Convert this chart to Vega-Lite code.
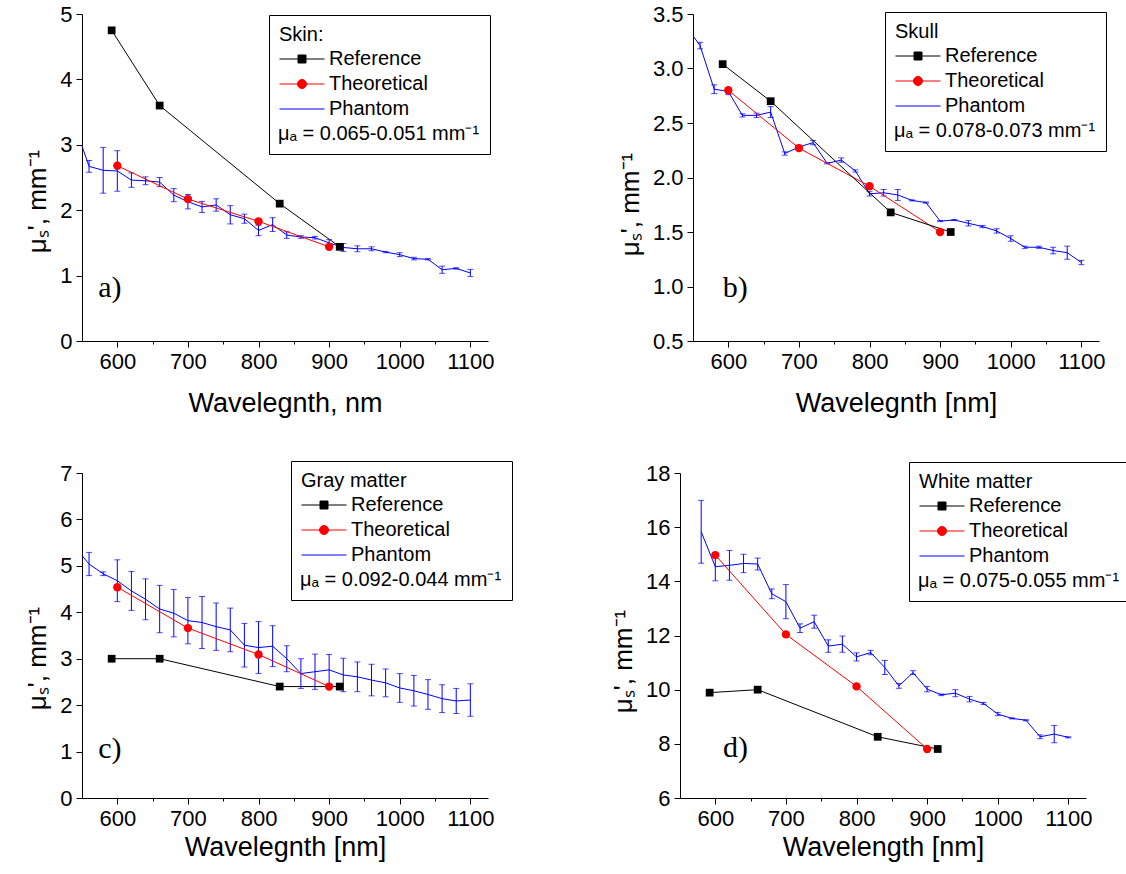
{
  "$schema": "https://vega.github.io/schema/vega-lite/v6.json",
  "background": "white",
  "padding": {"left": 24, "top": 3, "right": 0, "bottom": 12},
  "config": {
    "font": "Liberation Sans",
    "view": {"stroke": null},
    "axis": {
      "grid": false,
      "domainColor": "black",
      "domainWidth": 1,
      "tickColor": "black",
      "tickWidth": 1,
      "labelColor": "black",
      "labelFont": "Liberation Sans",
      "labelFontSize": 22,
      "labelOverlap": false,
      "labelBound": false,
      "labelFlush": false,
      "titleColor": "black",
      "titleFont": "Liberation Sans",
      "titleFontWeight": "normal"
    },
    "axisX": {"labelPadding": 4, "titlePadding": 9, "format": "d", "titleFontSize": 27},
    "axisY": {"labelPadding": 4, "titlePadding": 9, "titleFontSize": 26},
    "legend": {
      "orient": "none",
      "titleFontSize": 20, "titleFontWeight": "normal", "titleColor": "black", "titlePadding": 4,
      "labelFontSize": 20, "labelColor": "black", "labelOffset": 30, "labelLimit": 400,
      "strokeColor": "black", "padding": 10, "rowPadding": 5, "symbolSize": 100
    }
  },
  "datasets": {
    "skin": [
      {"series": "Reference", "wl": 592, "mus": 4.75},
      {"series": "Reference", "wl": 660, "mus": 3.6},
      {"series": "Reference", "wl": 830, "mus": 2.1},
      {"series": "Reference", "wl": 915, "mus": 1.44},
      {"series": "Theoretical", "wl": 600, "mus": 2.68},
      {"series": "Theoretical", "wl": 700, "mus": 2.17},
      {"series": "Theoretical", "wl": 800, "mus": 1.83},
      {"series": "Theoretical", "wl": 900, "mus": 1.44},
      {"series": "Phantom", "wl": 550, "mus": 2.98},
      {"series": "Phantom", "wl": 560, "mus": 2.67, "err": 0.09},
      {"series": "Phantom", "wl": 580, "mus": 2.61, "err": 0.35},
      {"series": "Phantom", "wl": 600, "mus": 2.6, "err": 0.31},
      {"series": "Phantom", "wl": 620, "mus": 2.46, "err": 0.11},
      {"series": "Phantom", "wl": 640, "mus": 2.45, "err": 0.06},
      {"series": "Phantom", "wl": 660, "mus": 2.43, "err": 0.07},
      {"series": "Phantom", "wl": 680, "mus": 2.23, "err": 0.1},
      {"series": "Phantom", "wl": 700, "mus": 2.13, "err": 0.11},
      {"series": "Phantom", "wl": 720, "mus": 2.05, "err": 0.085},
      {"series": "Phantom", "wl": 740, "mus": 2.08, "err": 0.095},
      {"series": "Phantom", "wl": 760, "mus": 1.93, "err": 0.14},
      {"series": "Phantom", "wl": 780, "mus": 1.87, "err": 0.07},
      {"series": "Phantom", "wl": 800, "mus": 1.69, "err": 0.08},
      {"series": "Phantom", "wl": 820, "mus": 1.78, "err": 0.105},
      {"series": "Phantom", "wl": 840, "mus": 1.62, "err": 0.05},
      {"series": "Phantom", "wl": 860, "mus": 1.59, "err": 0.02},
      {"series": "Phantom", "wl": 880, "mus": 1.58, "err": 0.02},
      {"series": "Phantom", "wl": 900, "mus": 1.5, "err": 0.05},
      {"series": "Phantom", "wl": 920, "mus": 1.43, "err": 0.06},
      {"series": "Phantom", "wl": 940, "mus": 1.41, "err": 0.045},
      {"series": "Phantom", "wl": 960, "mus": 1.41, "err": 0.03},
      {"series": "Phantom", "wl": 980, "mus": 1.36, "err": 0.01},
      {"series": "Phantom", "wl": 1000, "mus": 1.32, "err": 0.03},
      {"series": "Phantom", "wl": 1020, "mus": 1.26, "err": 0.02},
      {"series": "Phantom", "wl": 1040, "mus": 1.25, "err": 0.01},
      {"series": "Phantom", "wl": 1060, "mus": 1.09, "err": 0.055},
      {"series": "Phantom", "wl": 1080, "mus": 1.11, "err": 0.01},
      {"series": "Phantom", "wl": 1100, "mus": 1.04, "err": 0.055}
    ],
    "skull": [
      {"series": "Reference", "wl": 592, "mus": 3.04},
      {"series": "Reference", "wl": 660, "mus": 2.7},
      {"series": "Reference", "wl": 830, "mus": 1.68},
      {"series": "Reference", "wl": 915, "mus": 1.5},
      {"series": "Theoretical", "wl": 600, "mus": 2.8},
      {"series": "Theoretical", "wl": 700, "mus": 2.27},
      {"series": "Theoretical", "wl": 800, "mus": 1.92},
      {"series": "Theoretical", "wl": 900, "mus": 1.5},
      {"series": "Phantom", "wl": 550, "mus": 3.3},
      {"series": "Phantom", "wl": 560, "mus": 3.21, "err": 0.03},
      {"series": "Phantom", "wl": 580, "mus": 2.81, "err": 0.04},
      {"series": "Phantom", "wl": 600, "mus": 2.79, "err": 0.03},
      {"series": "Phantom", "wl": 620, "mus": 2.57, "err": 0.015},
      {"series": "Phantom", "wl": 640, "mus": 2.57, "err": 0.02},
      {"series": "Phantom", "wl": 660, "mus": 2.6, "err": 0.05},
      {"series": "Phantom", "wl": 680, "mus": 2.22, "err": 0.015},
      {"series": "Phantom", "wl": 700, "mus": 2.28, "err": 0.015},
      {"series": "Phantom", "wl": 720, "mus": 2.32, "err": 0.02},
      {"series": "Phantom", "wl": 740, "mus": 2.13, "err": 0.005},
      {"series": "Phantom", "wl": 760, "mus": 2.16, "err": 0.02},
      {"series": "Phantom", "wl": 780, "mus": 2.06, "err": 0.01},
      {"series": "Phantom", "wl": 800, "mus": 1.85, "err": 0.02},
      {"series": "Phantom", "wl": 820, "mus": 1.86, "err": 0.03},
      {"series": "Phantom", "wl": 840, "mus": 1.84, "err": 0.05},
      {"series": "Phantom", "wl": 860, "mus": 1.79, "err": 0.005},
      {"series": "Phantom", "wl": 880, "mus": 1.77, "err": 0.005},
      {"series": "Phantom", "wl": 900, "mus": 1.6, "err": 0.005},
      {"series": "Phantom", "wl": 920, "mus": 1.61, "err": 0.005},
      {"series": "Phantom", "wl": 940, "mus": 1.58, "err": 0.025},
      {"series": "Phantom", "wl": 960, "mus": 1.55, "err": 0.01},
      {"series": "Phantom", "wl": 980, "mus": 1.51, "err": 0.02},
      {"series": "Phantom", "wl": 1000, "mus": 1.44, "err": 0.025},
      {"series": "Phantom", "wl": 1020, "mus": 1.36, "err": 0.01},
      {"series": "Phantom", "wl": 1040, "mus": 1.36, "err": 0.01},
      {"series": "Phantom", "wl": 1060, "mus": 1.33, "err": 0.03},
      {"series": "Phantom", "wl": 1080, "mus": 1.31, "err": 0.06},
      {"series": "Phantom", "wl": 1100, "mus": 1.22, "err": 0.02}
    ],
    "gray": [
      {"series": "Reference", "wl": 592, "mus": 3.0},
      {"series": "Reference", "wl": 660, "mus": 3.0},
      {"series": "Reference", "wl": 830, "mus": 2.4},
      {"series": "Reference", "wl": 915, "mus": 2.4},
      {"series": "Theoretical", "wl": 600, "mus": 4.54},
      {"series": "Theoretical", "wl": 700, "mus": 3.66},
      {"series": "Theoretical", "wl": 800, "mus": 3.09},
      {"series": "Theoretical", "wl": 900, "mus": 2.4},
      {"series": "Phantom", "wl": 550, "mus": 5.22},
      {"series": "Phantom", "wl": 560, "mus": 5.04, "err": 0.25},
      {"series": "Phantom", "wl": 580, "mus": 4.83, "err": 0.04},
      {"series": "Phantom", "wl": 600, "mus": 4.68, "err": 0.45},
      {"series": "Phantom", "wl": 620, "mus": 4.46, "err": 0.42},
      {"series": "Phantom", "wl": 640, "mus": 4.28, "err": 0.44},
      {"series": "Phantom", "wl": 660, "mus": 4.07, "err": 0.51},
      {"series": "Phantom", "wl": 680, "mus": 3.98, "err": 0.51},
      {"series": "Phantom", "wl": 700, "mus": 3.82, "err": 0.5},
      {"series": "Phantom", "wl": 720, "mus": 3.78, "err": 0.56},
      {"series": "Phantom", "wl": 740, "mus": 3.69, "err": 0.51},
      {"series": "Phantom", "wl": 760, "mus": 3.62, "err": 0.47},
      {"series": "Phantom", "wl": 780, "mus": 3.29, "err": 0.47},
      {"series": "Phantom", "wl": 800, "mus": 3.24, "err": 0.56},
      {"series": "Phantom", "wl": 820, "mus": 3.27, "err": 0.44},
      {"series": "Phantom", "wl": 840, "mus": 3.0, "err": 0.28},
      {"series": "Phantom", "wl": 860, "mus": 2.68, "err": 0.32},
      {"series": "Phantom", "wl": 880, "mus": 2.72, "err": 0.38},
      {"series": "Phantom", "wl": 900, "mus": 2.76, "err": 0.33},
      {"series": "Phantom", "wl": 920, "mus": 2.65, "err": 0.36},
      {"series": "Phantom", "wl": 940, "mus": 2.61, "err": 0.32},
      {"series": "Phantom", "wl": 960, "mus": 2.54, "err": 0.34},
      {"series": "Phantom", "wl": 980, "mus": 2.48, "err": 0.3},
      {"series": "Phantom", "wl": 1000, "mus": 2.37, "err": 0.31},
      {"series": "Phantom", "wl": 1020, "mus": 2.31, "err": 0.33},
      {"series": "Phantom", "wl": 1040, "mus": 2.23, "err": 0.32},
      {"series": "Phantom", "wl": 1060, "mus": 2.14, "err": 0.3},
      {"series": "Phantom", "wl": 1080, "mus": 2.09, "err": 0.27},
      {"series": "Phantom", "wl": 1100, "mus": 2.11, "err": 0.35}
    ],
    "white": [
      {"series": "Reference", "wl": 592, "mus": 9.89},
      {"series": "Reference", "wl": 660, "mus": 10.0},
      {"series": "Reference", "wl": 830, "mus": 8.26},
      {"series": "Reference", "wl": 915, "mus": 7.81},
      {"series": "Theoretical", "wl": 600, "mus": 14.97},
      {"series": "Theoretical", "wl": 700, "mus": 12.04},
      {"series": "Theoretical", "wl": 800, "mus": 10.12},
      {"series": "Theoretical", "wl": 900, "mus": 7.81},
      {"series": "Phantom", "wl": 580, "mus": 15.83, "err": 1.16},
      {"series": "Phantom", "wl": 600, "mus": 14.54, "err": 0.52},
      {"series": "Phantom", "wl": 620, "mus": 14.59, "err": 0.55},
      {"series": "Phantom", "wl": 640, "mus": 14.66, "err": 0.34},
      {"series": "Phantom", "wl": 660, "mus": 14.64, "err": 0.22},
      {"series": "Phantom", "wl": 680, "mus": 13.54, "err": 0.18},
      {"series": "Phantom", "wl": 700, "mus": 13.25, "err": 0.63},
      {"series": "Phantom", "wl": 720, "mus": 12.27, "err": 0.16},
      {"series": "Phantom", "wl": 740, "mus": 12.51, "err": 0.24},
      {"series": "Phantom", "wl": 760, "mus": 11.61, "err": 0.23},
      {"series": "Phantom", "wl": 780, "mus": 11.68, "err": 0.3},
      {"series": "Phantom", "wl": 800, "mus": 11.21, "err": 0.15},
      {"series": "Phantom", "wl": 820, "mus": 11.37, "err": 0.08},
      {"series": "Phantom", "wl": 840, "mus": 10.82, "err": 0.26},
      {"series": "Phantom", "wl": 860, "mus": 10.14, "err": 0.09},
      {"series": "Phantom", "wl": 880, "mus": 10.63, "err": 0.07},
      {"series": "Phantom", "wl": 900, "mus": 10.02, "err": 0.1},
      {"series": "Phantom", "wl": 920, "mus": 9.81, "err": 0.03},
      {"series": "Phantom", "wl": 940, "mus": 9.87, "err": 0.13},
      {"series": "Phantom", "wl": 960, "mus": 9.65, "err": 0.1},
      {"series": "Phantom", "wl": 980, "mus": 9.49, "err": 0.04},
      {"series": "Phantom", "wl": 1000, "mus": 9.1, "err": 0.06},
      {"series": "Phantom", "wl": 1020, "mus": 8.94, "err": 0.02},
      {"series": "Phantom", "wl": 1040, "mus": 8.87, "err": 0.02},
      {"series": "Phantom", "wl": 1060, "mus": 8.26, "err": 0.07},
      {"series": "Phantom", "wl": 1080, "mus": 8.36, "err": 0.32},
      {"series": "Phantom", "wl": 1100, "mus": 8.24, "err": 0.02}
    ]
  },
  "spacing": 44,
  "resolve": {"scale": {"color": "independent"}, "legend": {"color": "independent"}},
  "vconcat": [
    {
      "spacing": 205,
      "bounds": "flush",
      "resolve": {"scale": {"color": "independent"}, "legend": {"color": "independent"}},
      "hconcat": [
        {
          "width": 406, "height": 327,
          "data": {"name": "skin"},
          "layer": [
            {"transform": [{"filter": "datum.series === 'Phantom' && isValid(datum.err)"}],
              "mark": {"type": "errorbar", "ticks": {"size": 6}, "color": "#0000ff", "thickness": 1},
              "encoding": {
                "x": {"field": "wl", "type": "quantitative", "title": "Wavelegnth, nm", "scale": {"domain": [550, 1125], "nice": false, "zero": false}},
                "y": {"field": "mus", "type": "quantitative", "title": "μₛ', mm⁻¹", "scale": {"domain": [0, 5], "nice": false, "zero": false}},
                "yError": {"field": "err"}}},
            {"transform": [{"filter": "datum.series === 'Phantom'"}],
              "mark": {"type": "line", "strokeWidth": 1},
              "encoding": {
                "x": {"field": "wl", "type": "quantitative", "title": "Wavelegnth, nm", "scale": {"domain": [550, 1125], "nice": false, "zero": false},
                  "axis": {"titlePadding": 18, "values": [600, 650, 700, 750, 800, 850, 900, 950, 1000, 1050, 1100],
                    "labelExpr": "datum.value % 100 === 0 ? datum.label : ''",
                    "tickSize": {"condition": {"test": "datum.value % 100 === 0", "value": 6}, "value": 3}}},
                "y": {"field": "mus", "type": "quantitative", "title": "μₛ', mm⁻¹", "scale": {"domain": [0, 5], "nice": false, "zero": false},
                  "axis": {"titleY": 187, "format": "d", "values": [0, 0.5, 1, 1.5, 2, 2.5, 3, 3.5, 4, 4.5, 5],
                    "labelExpr": "datum.value % 1 === 0 ? datum.label : ''",
                    "tickSize": {"condition": {"test": "datum.value % 1 === 0", "value": 6}, "value": 3}}},
                "color": {"field": "series", "type": "nominal",
                "scale": {"domain": ["Reference", "Theoretical", "Phantom", "μₐ = 0.065-0.051 mm⁻¹"], "range": ["#000000", "#ff0000", "#0000ff", "transparent"]},
                "legend": {"legendX": 187, "legendY": 1, "title": "Skin:",
                  "encode": {
                    "symbols": {"update": {
                      "shape": {"signal": "datum.value === 'Reference' ? 'M-1.9,0H7.1M1.8,-0.8H3.4V0.8H1.8Z' : datum.value === 'Theoretical' ? 'M-1.9,0H7.1M3.5,0A0.9,0.9,0,1,1,1.7,0A0.9,0.9,0,1,1,3.5,0Z' : datum.value === 'Phantom' ? 'M-1.9,0H7.1' : 'M0,0'"},
                      "fill": {"signal": "datum.value === 'Reference' ? '#000000' : datum.value === 'Theoretical' ? '#ff0000' : 'transparent'"},
                      "stroke": {"signal": "datum.value === 'Reference' ? '#000000' : datum.value === 'Theoretical' ? '#ff0000' : datum.value === 'Phantom' ? '#0000ff' : 'transparent'"},
                      "strokeWidth": {"value": 1}, "opacity": {"value": 1}}},
                    "labels": {"update": {"dx": {"signal": "indexof(['Reference','Theoretical','Phantom'], datum.value) >= 0 ? 0 : -51"}}}
                  }}}}},
            {"transform": [{"filter": "datum.series === 'Theoretical'"}],
              "mark": {"type": "line", "strokeWidth": 1},
              "encoding": {
                "x": {"field": "wl", "type": "quantitative", "title": "Wavelegnth, nm", "scale": {"domain": [550, 1125], "nice": false, "zero": false}},
                "y": {"field": "mus", "type": "quantitative", "title": "μₛ', mm⁻¹", "scale": {"domain": [0, 5], "nice": false, "zero": false}},
                "color": {"field": "series", "type": "nominal"}}},
            {"transform": [{"filter": "datum.series === 'Reference'"}],
              "mark": {"type": "line", "strokeWidth": 1},
              "encoding": {
                "x": {"field": "wl", "type": "quantitative", "title": "Wavelegnth, nm", "scale": {"domain": [550, 1125], "nice": false, "zero": false}},
                "y": {"field": "mus", "type": "quantitative", "title": "μₛ', mm⁻¹", "scale": {"domain": [0, 5], "nice": false, "zero": false}},
                "color": {"field": "series", "type": "nominal"}}},
            {"transform": [{"filter": "datum.series === 'Theoretical'"}],
              "mark": {"type": "point", "shape": "circle", "filled": true, "size": 70, "color": "#ff0000", "opacity": 1},
              "encoding": {
                "x": {"field": "wl", "type": "quantitative", "title": "Wavelegnth, nm", "scale": {"domain": [550, 1125], "nice": false, "zero": false}},
                "y": {"field": "mus", "type": "quantitative", "title": "μₛ', mm⁻¹", "scale": {"domain": [0, 5], "nice": false, "zero": false}}}},
            {"transform": [{"filter": "datum.series === 'Reference'"}],
              "mark": {"type": "point", "shape": "square", "filled": true, "size": 60, "color": "#000000", "opacity": 1},
              "encoding": {
                "x": {"field": "wl", "type": "quantitative", "title": "Wavelegnth, nm", "scale": {"domain": [550, 1125], "nice": false, "zero": false}},
                "y": {"field": "mus", "type": "quantitative", "title": "μₛ', mm⁻¹", "scale": {"domain": [0, 5], "nice": false, "zero": false}}}},
            {"data": {"values": [{"label": "a)"}]},
              "mark": {"type": "text", "font": "Liberation Serif", "fontSize": 30, "align": "left", "baseline": "alphabetic", "color": "black"},
              "encoding": {"x": {"datum": 573, "type": "quantitative"}, "y": {"datum": 0.67, "type": "quantitative"}, "text": {"field": "label"}}}
          ]
        },
        {
          "width": 406, "height": 327,
          "data": {"name": "skull"},
          "layer": [
            {"transform": [{"filter": "datum.series === 'Phantom' && isValid(datum.err)"}],
              "mark": {"type": "errorbar", "ticks": {"size": 6}, "color": "#0000ff", "thickness": 1},
              "encoding": {
                "x": {"field": "wl", "type": "quantitative", "title": "Wavelegnth [nm]", "scale": {"domain": [550, 1125], "nice": false, "zero": false}},
                "y": {"field": "mus", "type": "quantitative", "title": "μₛ', mm⁻¹", "scale": {"domain": [0.5, 3.5], "nice": false, "zero": false}},
                "yError": {"field": "err"}}},
            {"transform": [{"filter": "datum.series === 'Phantom'"}],
              "mark": {"type": "line", "strokeWidth": 1},
              "encoding": {
                "x": {"field": "wl", "type": "quantitative", "title": "Wavelegnth [nm]", "scale": {"domain": [550, 1125], "nice": false, "zero": false},
                  "axis": {"titlePadding": 18, "values": [600, 650, 700, 750, 800, 850, 900, 950, 1000, 1050, 1100],
                    "labelExpr": "datum.value % 100 === 0 ? datum.label : ''",
                    "tickSize": {"condition": {"test": "datum.value % 100 === 0", "value": 6}, "value": 3}}},
                "y": {"field": "mus", "type": "quantitative", "title": "μₛ', mm⁻¹", "scale": {"domain": [0.5, 3.5], "nice": false, "zero": false},
                  "axis": {"titleY": 190, "format": ".1f", "values": [0.5, 0.75, 1, 1.25, 1.5, 1.75, 2, 2.25, 2.5, 2.75, 3, 3.25, 3.5],
                    "labelExpr": "datum.value % 0.5 === 0 ? datum.label : ''",
                    "tickSize": {"condition": {"test": "datum.value % 0.5 === 0", "value": 6}, "value": 3}}},
                "color": {"field": "series", "type": "nominal",
                "scale": {"domain": ["Reference", "Theoretical", "Phantom", "μₐ = 0.078-0.073 mm⁻¹"], "range": ["#000000", "#ff0000", "#0000ff", "transparent"]},
                "legend": {"legendX": 192, "legendY": -2, "title": "Skull",
                  "encode": {
                    "symbols": {"update": {
                      "shape": {"signal": "datum.value === 'Reference' ? 'M-1.9,0H7.1M1.8,-0.8H3.4V0.8H1.8Z' : datum.value === 'Theoretical' ? 'M-1.9,0H7.1M3.5,0A0.9,0.9,0,1,1,1.7,0A0.9,0.9,0,1,1,3.5,0Z' : datum.value === 'Phantom' ? 'M-1.9,0H7.1' : 'M0,0'"},
                      "fill": {"signal": "datum.value === 'Reference' ? '#000000' : datum.value === 'Theoretical' ? '#ff0000' : 'transparent'"},
                      "stroke": {"signal": "datum.value === 'Reference' ? '#000000' : datum.value === 'Theoretical' ? '#ff0000' : datum.value === 'Phantom' ? '#0000ff' : 'transparent'"},
                      "strokeWidth": {"value": 1}, "opacity": {"value": 1}}},
                    "labels": {"update": {"dx": {"signal": "indexof(['Reference','Theoretical','Phantom'], datum.value) >= 0 ? 0 : -51"}}}
                  }}}}},
            {"transform": [{"filter": "datum.series === 'Theoretical'"}],
              "mark": {"type": "line", "strokeWidth": 1},
              "encoding": {
                "x": {"field": "wl", "type": "quantitative", "title": "Wavelegnth [nm]", "scale": {"domain": [550, 1125], "nice": false, "zero": false}},
                "y": {"field": "mus", "type": "quantitative", "title": "μₛ', mm⁻¹", "scale": {"domain": [0.5, 3.5], "nice": false, "zero": false}},
                "color": {"field": "series", "type": "nominal"}}},
            {"transform": [{"filter": "datum.series === 'Reference'"}],
              "mark": {"type": "line", "strokeWidth": 1},
              "encoding": {
                "x": {"field": "wl", "type": "quantitative", "title": "Wavelegnth [nm]", "scale": {"domain": [550, 1125], "nice": false, "zero": false}},
                "y": {"field": "mus", "type": "quantitative", "title": "μₛ', mm⁻¹", "scale": {"domain": [0.5, 3.5], "nice": false, "zero": false}},
                "color": {"field": "series", "type": "nominal"}}},
            {"transform": [{"filter": "datum.series === 'Theoretical'"}],
              "mark": {"type": "point", "shape": "circle", "filled": true, "size": 70, "color": "#ff0000", "opacity": 1},
              "encoding": {
                "x": {"field": "wl", "type": "quantitative", "title": "Wavelegnth [nm]", "scale": {"domain": [550, 1125], "nice": false, "zero": false}},
                "y": {"field": "mus", "type": "quantitative", "title": "μₛ', mm⁻¹", "scale": {"domain": [0.5, 3.5], "nice": false, "zero": false}}}},
            {"transform": [{"filter": "datum.series === 'Reference'"}],
              "mark": {"type": "point", "shape": "square", "filled": true, "size": 60, "color": "#000000", "opacity": 1},
              "encoding": {
                "x": {"field": "wl", "type": "quantitative", "title": "Wavelegnth [nm]", "scale": {"domain": [550, 1125], "nice": false, "zero": false}},
                "y": {"field": "mus", "type": "quantitative", "title": "μₛ', mm⁻¹", "scale": {"domain": [0.5, 3.5], "nice": false, "zero": false}}}},
            {"data": {"values": [{"label": "b)"}]},
              "mark": {"type": "text", "font": "Liberation Serif", "fontSize": 30, "align": "left", "baseline": "alphabetic", "color": "black"},
              "encoding": {"x": {"datum": 592, "type": "quantitative"}, "y": {"datum": 0.9, "type": "quantitative"}, "text": {"field": "label"}}}
          ]
        }
      ]
    },
    {
      "spacing": 192,
      "bounds": "flush",
      "resolve": {"scale": {"color": "independent"}, "legend": {"color": "independent"}},
      "hconcat": [
        {
          "width": 406, "height": 325,
          "data": {"name": "gray"},
          "layer": [
            {"transform": [{"filter": "datum.series === 'Phantom' && isValid(datum.err)"}],
              "mark": {"type": "errorbar", "ticks": {"size": 6}, "color": "#0000ff", "thickness": 1},
              "encoding": {
                "x": {"field": "wl", "type": "quantitative", "title": "Wavelegnth [nm]", "scale": {"domain": [550, 1125], "nice": false, "zero": false}},
                "y": {"field": "mus", "type": "quantitative", "title": "μₛ', mm⁻¹", "scale": {"domain": [0, 7], "nice": false, "zero": false}},
                "yError": {"field": "err"}}},
            {"transform": [{"filter": "datum.series === 'Phantom'"}],
              "mark": {"type": "line", "strokeWidth": 1},
              "encoding": {
                "x": {"field": "wl", "type": "quantitative", "title": "Wavelegnth [nm]", "scale": {"domain": [550, 1125], "nice": false, "zero": false},
                  "axis": {"titlePadding": 5, "values": [600, 650, 700, 750, 800, 850, 900, 950, 1000, 1050, 1100],
                    "labelExpr": "datum.value % 100 === 0 ? datum.label : ''",
                    "tickSize": {"condition": {"test": "datum.value % 100 === 0", "value": 6}, "value": 3}}},
                "y": {"field": "mus", "type": "quantitative", "title": "μₛ', mm⁻¹", "scale": {"domain": [0, 7], "nice": false, "zero": false},
                  "axis": {"titleY": 185, "format": "d", "values": [0, 0.5, 1, 1.5, 2, 2.5, 3, 3.5, 4, 4.5, 5, 5.5, 6, 6.5, 7],
                    "labelExpr": "datum.value % 1 === 0 ? datum.label : ''",
                    "tickSize": {"condition": {"test": "datum.value % 1 === 0", "value": 6}, "value": 3}}},
                "color": {"field": "series", "type": "nominal",
                "scale": {"domain": ["Reference", "Theoretical", "Phantom", "μₐ = 0.092-0.044 mm⁻¹"], "range": ["#000000", "#ff0000", "#0000ff", "transparent"]},
                "legend": {"legendX": 209, "legendY": -12, "title": "Gray matter",
                  "encode": {
                    "symbols": {"update": {
                      "shape": {"signal": "datum.value === 'Reference' ? 'M-1.9,0H7.1M1.8,-0.8H3.4V0.8H1.8Z' : datum.value === 'Theoretical' ? 'M-1.9,0H7.1M3.5,0A0.9,0.9,0,1,1,1.7,0A0.9,0.9,0,1,1,3.5,0Z' : datum.value === 'Phantom' ? 'M-1.9,0H7.1' : 'M0,0'"},
                      "fill": {"signal": "datum.value === 'Reference' ? '#000000' : datum.value === 'Theoretical' ? '#ff0000' : 'transparent'"},
                      "stroke": {"signal": "datum.value === 'Reference' ? '#000000' : datum.value === 'Theoretical' ? '#ff0000' : datum.value === 'Phantom' ? '#0000ff' : 'transparent'"},
                      "strokeWidth": {"value": 1}, "opacity": {"value": 1}}},
                    "labels": {"update": {"dx": {"signal": "indexof(['Reference','Theoretical','Phantom'], datum.value) >= 0 ? 0 : -51"}}}
                  }}}}},
            {"transform": [{"filter": "datum.series === 'Theoretical'"}],
              "mark": {"type": "line", "strokeWidth": 1},
              "encoding": {
                "x": {"field": "wl", "type": "quantitative", "title": "Wavelegnth [nm]", "scale": {"domain": [550, 1125], "nice": false, "zero": false}},
                "y": {"field": "mus", "type": "quantitative", "title": "μₛ', mm⁻¹", "scale": {"domain": [0, 7], "nice": false, "zero": false}},
                "color": {"field": "series", "type": "nominal"}}},
            {"transform": [{"filter": "datum.series === 'Reference'"}],
              "mark": {"type": "line", "strokeWidth": 1},
              "encoding": {
                "x": {"field": "wl", "type": "quantitative", "title": "Wavelegnth [nm]", "scale": {"domain": [550, 1125], "nice": false, "zero": false}},
                "y": {"field": "mus", "type": "quantitative", "title": "μₛ', mm⁻¹", "scale": {"domain": [0, 7], "nice": false, "zero": false}},
                "color": {"field": "series", "type": "nominal"}}},
            {"transform": [{"filter": "datum.series === 'Theoretical'"}],
              "mark": {"type": "point", "shape": "circle", "filled": true, "size": 70, "color": "#ff0000", "opacity": 1},
              "encoding": {
                "x": {"field": "wl", "type": "quantitative", "title": "Wavelegnth [nm]", "scale": {"domain": [550, 1125], "nice": false, "zero": false}},
                "y": {"field": "mus", "type": "quantitative", "title": "μₛ', mm⁻¹", "scale": {"domain": [0, 7], "nice": false, "zero": false}}}},
            {"transform": [{"filter": "datum.series === 'Reference'"}],
              "mark": {"type": "point", "shape": "square", "filled": true, "size": 60, "color": "#000000", "opacity": 1},
              "encoding": {
                "x": {"field": "wl", "type": "quantitative", "title": "Wavelegnth [nm]", "scale": {"domain": [550, 1125], "nice": false, "zero": false}},
                "y": {"field": "mus", "type": "quantitative", "title": "μₛ', mm⁻¹", "scale": {"domain": [0, 7], "nice": false, "zero": false}}}},
            {"data": {"values": [{"label": "c)"}]},
              "mark": {"type": "text", "font": "Liberation Serif", "fontSize": 30, "align": "left", "baseline": "alphabetic", "color": "black"},
              "encoding": {"x": {"datum": 573, "type": "quantitative"}, "y": {"datum": 0.86, "type": "quantitative"}, "text": {"field": "label"}}}
          ]
        },
        {
          "width": 406, "height": 325,
          "data": {"name": "white"},
          "layer": [
            {"transform": [{"filter": "datum.series === 'Phantom' && isValid(datum.err)"}],
              "mark": {"type": "errorbar", "ticks": {"size": 6}, "color": "#0000ff", "thickness": 1},
              "encoding": {
                "x": {"field": "wl", "type": "quantitative", "title": "Wavelength [nm]", "scale": {"domain": [550, 1125], "nice": false, "zero": false}},
                "y": {"field": "mus", "type": "quantitative", "title": "μₛ', mm⁻¹", "scale": {"domain": [6, 18], "nice": false, "zero": false}},
                "yError": {"field": "err"}}},
            {"transform": [{"filter": "datum.series === 'Phantom'"}],
              "mark": {"type": "line", "strokeWidth": 1},
              "encoding": {
                "x": {"field": "wl", "type": "quantitative", "title": "Wavelength [nm]", "scale": {"domain": [550, 1125], "nice": false, "zero": false},
                  "axis": {"titlePadding": 5, "values": [600, 650, 700, 750, 800, 850, 900, 950, 1000, 1050, 1100],
                    "labelExpr": "datum.value % 100 === 0 ? datum.label : ''",
                    "tickSize": {"condition": {"test": "datum.value % 100 === 0", "value": 6}, "value": 3}}},
                "y": {"field": "mus", "type": "quantitative", "title": "μₛ', mm⁻¹", "scale": {"domain": [6, 18], "nice": false, "zero": false},
                  "axis": {"titleY": 188, "format": "d", "values": [6, 7, 8, 9, 10, 11, 12, 13, 14, 15, 16, 17, 18],
                    "labelExpr": "datum.value % 2 === 0 ? datum.label : ''",
                    "tickSize": {"condition": {"test": "datum.value % 2 === 0", "value": 6}, "value": 3}}},
                "color": {"field": "series", "type": "nominal",
                "scale": {"domain": ["Reference", "Theoretical", "Phantom", "μₐ = 0.075-0.055 mm⁻¹"], "range": ["#000000", "#ff0000", "#0000ff", "transparent"]},
                "legend": {"legendX": 229, "legendY": -11, "title": "White matter",
                  "encode": {
                    "symbols": {"update": {
                      "shape": {"signal": "datum.value === 'Reference' ? 'M-1.9,0H7.1M1.8,-0.8H3.4V0.8H1.8Z' : datum.value === 'Theoretical' ? 'M-1.9,0H7.1M3.5,0A0.9,0.9,0,1,1,1.7,0A0.9,0.9,0,1,1,3.5,0Z' : datum.value === 'Phantom' ? 'M-1.9,0H7.1' : 'M0,0'"},
                      "fill": {"signal": "datum.value === 'Reference' ? '#000000' : datum.value === 'Theoretical' ? '#ff0000' : 'transparent'"},
                      "stroke": {"signal": "datum.value === 'Reference' ? '#000000' : datum.value === 'Theoretical' ? '#ff0000' : datum.value === 'Phantom' ? '#0000ff' : 'transparent'"},
                      "strokeWidth": {"value": 1}, "opacity": {"value": 1}}},
                    "labels": {"update": {"dx": {"signal": "indexof(['Reference','Theoretical','Phantom'], datum.value) >= 0 ? 0 : -51"}}}
                  }}}}},
            {"transform": [{"filter": "datum.series === 'Theoretical'"}],
              "mark": {"type": "line", "strokeWidth": 1},
              "encoding": {
                "x": {"field": "wl", "type": "quantitative", "title": "Wavelength [nm]", "scale": {"domain": [550, 1125], "nice": false, "zero": false}},
                "y": {"field": "mus", "type": "quantitative", "title": "μₛ', mm⁻¹", "scale": {"domain": [6, 18], "nice": false, "zero": false}},
                "color": {"field": "series", "type": "nominal"}}},
            {"transform": [{"filter": "datum.series === 'Reference'"}],
              "mark": {"type": "line", "strokeWidth": 1},
              "encoding": {
                "x": {"field": "wl", "type": "quantitative", "title": "Wavelength [nm]", "scale": {"domain": [550, 1125], "nice": false, "zero": false}},
                "y": {"field": "mus", "type": "quantitative", "title": "μₛ', mm⁻¹", "scale": {"domain": [6, 18], "nice": false, "zero": false}},
                "color": {"field": "series", "type": "nominal"}}},
            {"transform": [{"filter": "datum.series === 'Theoretical'"}],
              "mark": {"type": "point", "shape": "circle", "filled": true, "size": 70, "color": "#ff0000", "opacity": 1},
              "encoding": {
                "x": {"field": "wl", "type": "quantitative", "title": "Wavelength [nm]", "scale": {"domain": [550, 1125], "nice": false, "zero": false}},
                "y": {"field": "mus", "type": "quantitative", "title": "μₛ', mm⁻¹", "scale": {"domain": [6, 18], "nice": false, "zero": false}}}},
            {"transform": [{"filter": "datum.series === 'Reference'"}],
              "mark": {"type": "point", "shape": "square", "filled": true, "size": 60, "color": "#000000", "opacity": 1},
              "encoding": {
                "x": {"field": "wl", "type": "quantitative", "title": "Wavelength [nm]", "scale": {"domain": [550, 1125], "nice": false, "zero": false}},
                "y": {"field": "mus", "type": "quantitative", "title": "μₛ', mm⁻¹", "scale": {"domain": [6, 18], "nice": false, "zero": false}}}},
            {"data": {"values": [{"label": "d)"}]},
              "mark": {"type": "text", "font": "Liberation Serif", "fontSize": 30, "align": "left", "baseline": "alphabetic", "color": "black"},
              "encoding": {"x": {"datum": 611, "type": "quantitative"}, "y": {"datum": 7.52, "type": "quantitative"}, "text": {"field": "label"}}}
          ]
        }
      ]
    }
  ]
}
